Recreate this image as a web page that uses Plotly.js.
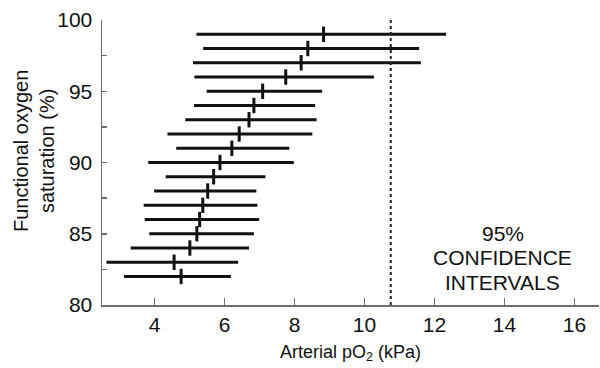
<!DOCTYPE html>
<html>
<head>
<meta charset="utf-8">
<script src="https://cdn.plot.ly/plotly-3.0.1.min.js"></script>
<style>html,body{margin:0;padding:0;background:#fff;}#chart{width:600px;height:368px;}</style>
</head>
<body>
<div id="chart"></div>
<script>
// Functional oxygen saturation (%) rows
const saturation = [99, 98, 97, 96, 95, 94, 93, 92, 91, 90, 89, 88, 87, 86, 85, 84, 83, 82];
// Arterial pO2 (kPa): central estimate and 95% CI bounds
const pO2Centre = [8.83, 8.38, 8.19, 7.75, 7.09, 6.84, 6.70, 6.42, 6.21, 5.87, 5.69, 5.52, 5.38, 5.29, 5.21, 5.01, 4.56, 4.76];
const pO2Lower  = [5.20, 5.39, 5.10, 5.14, 5.49, 5.13, 4.88, 4.37, 4.62, 3.82, 4.32, 3.99, 3.69, 3.72, 3.85, 3.32, 2.63, 3.13];
const pO2Upper  = [12.33, 11.56, 11.61, 10.27, 8.79, 8.59, 8.63, 8.51, 7.85, 7.98, 7.17, 6.91, 6.94, 6.99, 6.84, 6.70, 6.39, 6.18];
const referenceLine = 10.75;
const xTicks = [4, 6, 8, 10, 12, 14, 16];
const yTicks = [80, 85, 90, 95, 100];
const noteLines = ["95%", "CONFIDENCE", "INTERVALS"];
const noteY = [85.05, 83.33, 81.6];

const font = "Liberation Sans, Arial, Helvetica, sans-serif";
const axisGray = "#6e6e6e";

const trace = {
  type: "scatter",
  mode: "markers",
  x: pO2Centre,
  y: saturation,
  marker: {symbol: "line-ns", size: 11, line: {width: 3, color: "#111"}, color: "#111"},
  error_x: {
    type: "data",
    symmetric: false,
    array: pO2Upper.map((u, i) => u - pO2Centre[i]),
    arrayminus: pO2Lower.map((l, i) => pO2Centre[i] - l),
    width: 0,
    thickness: 3,
    color: "#111"
  },
  hoverinfo: "skip",
  showlegend: false
};

const annotations = noteLines.map((t, i) => ({
  text: t, x: 13.95, y: noteY[i], xref: "x", yref: "y",
  showarrow: false, font: {family: font, size: 21, color: "#111"},
  xanchor: "center", yanchor: "middle"
}));
annotations.push({
  text: "Functional oxygen<br>saturation (%)",
  xref: "paper", yref: "paper", x: -0.137, y: 0.54,
  textangle: -90, showarrow: false,
  font: {family: font, size: 20, color: "#111"},
  xanchor: "center", yanchor: "middle"
});

const layout = {
  width: 600, height: 368,
  margin: {l: 102, r: 1, t: 20, b: 63},
  paper_bgcolor: "#fff", plot_bgcolor: "#fff",
  font: {family: font, size: 20, color: "#111"},
  xaxis: {
    range: [2.5, 16.7],
    tickvals: xTicks,
    ticks: "inside", ticklen: 7, tickwidth: 1.5, tickcolor: axisGray,
    showline: true, linecolor: axisGray, linewidth: 1.5,
    showgrid: false, zeroline: false,
    tickfont: {family: font, size: 21, color: "#111"},
    title: {text: "Arterial pO<sub>2</sub> (kPa)", font: {family: font, size: 18, color: "#111"}, standoff: 10},
    automargin: false
  },
  yaxis: {
    range: [80, 100],
    tickvals: yTicks,
    ticks: "inside", ticklen: 5, tickwidth: 1.5, tickcolor: axisGray,
    minor: {tickvals: [82.5, 87.5, 92.5, 97.5], ticks: "inside", ticklen: 5, tickwidth: 1.5, tickcolor: axisGray},
    showline: true, linecolor: axisGray, linewidth: 1.5,
    showgrid: false, zeroline: false,
    tickfont: {family: font, size: 21, color: "#111"},
    ticklabelstandoff: 4,
    automargin: false
  },
  shapes: [{
    type: "line", xref: "x", yref: "y",
    x0: referenceLine, x1: referenceLine, y0: 80, y1: 100,
    line: {color: "#222", width: 2, dash: "dot"}
  }],
  annotations: annotations
};

Plotly.newPlot("chart", [trace], layout, {staticPlot: true, displayModeBar: false});
</script>
</body>
</html>
